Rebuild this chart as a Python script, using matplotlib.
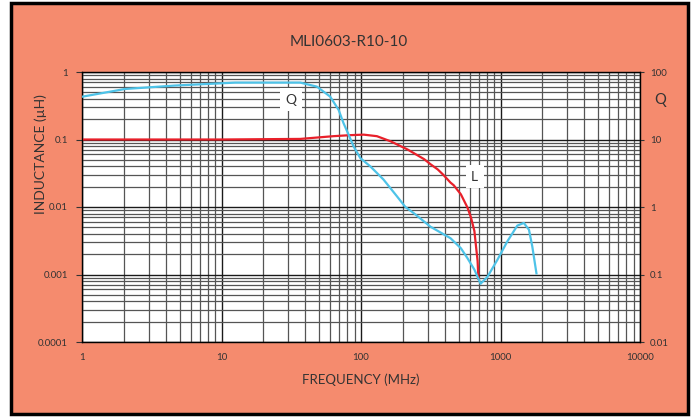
import matplotlib.pyplot as plt
from matplotlib.patches import Rectangle
from matplotlib.ticker import LogLocator, FixedLocator, NullFormatter

plt.rcParams['font.family'] = ['Lato', 'DejaVu Sans']

# inductance curve L (uH) vs frequency (MHz)
freqL = [1, 10, 36.7, 63.5, 83.9, 104.6, 130, 163, 216, 284, 315, 355, 389,
         438, 462, 520, 580, 614, 650, 665, 685, 695]
indL = [0.1, 0.1, 0.102, 0.112, 0.116, 0.118, 0.112, 0.094, 0.071, 0.051, 0.043,
        0.036, 0.030, 0.023, 0.021, 0.0154, 0.0098, 0.0070, 0.0044, 0.0028,
        0.0016, 0.00086]

# Q curve vs frequency (MHz)
freqQ = [1, 2.03, 4.65, 12.5, 16.1, 36.7, 48.3, 60.1, 69.1, 74.9, 81.5, 88.5,
         98.9, 116.6, 145, 181, 208, 239, 315, 438, 520, 580, 650, 720, 805,
         950, 1120, 1320, 1470, 1600, 1690, 1810]
qVal = [43, 56, 63, 69.6, 69.6, 69.6, 60.7, 43.2, 27.5, 17.5, 11.8, 7.9, 5.3,
        4.0, 2.55, 1.44, 1.0, 0.81, 0.51, 0.345, 0.245, 0.174, 0.118, 0.073,
        0.092, 0.165, 0.31, 0.53, 0.58, 0.46, 0.26, 0.104]

xTicks = [1, 10, 100, 1000, 10000]
xLabels = ['1', '10', '100', '1000', '10000']
yTicks = [1, 0.1, 0.01, 0.001, 0.0001]
yLabels = ['1', '0.1', '0.01', '0.001', '0.0001']
qTicks = [100, 10, 1, 0.1, 0.01]
qLabels = ['100', '10', '1', '0.1', '0.01']

salmon = '#F58B6E'
txt = '#333333'

fig = plt.figure(figsize=(6.98, 4.18), dpi=100)
fig.patch.set_facecolor('white')
fig.patches.append(Rectangle((11 / 698, 1 - 414 / 418), 677 / 698, 411 / 418,
                             transform=fig.transFigure, facecolor=salmon,
                             edgecolor='black', linewidth=2.5, zorder=-5))

ax = fig.add_axes([82 / 698, 1 - 342 / 418, 558 / 698, 270 / 418])
ax.set_facecolor('white')
ax.set_xscale('log')
ax.set_yscale('log')
ax.set_xlim(1, 10000)
ax.set_ylim(0.0001, 1)

ax.xaxis.set_major_locator(FixedLocator(xTicks))
ax.set_xticklabels(xLabels)
ax.xaxis.set_minor_locator(LogLocator(base=10, subs=range(2, 10)))
ax.xaxis.set_minor_formatter(NullFormatter())
ax.yaxis.set_major_locator(FixedLocator(yTicks))
ax.set_yticklabels(yLabels)
ax.yaxis.set_minor_locator(LogLocator(base=10, subs=range(2, 10)))
ax.yaxis.set_minor_formatter(NullFormatter())

ax.grid(which='major', color='#1a1a1a', linewidth=1.0)
ax.grid(which='minor', color='#555555', linewidth=0.9)
ax.set_axisbelow(True)
ax.tick_params(which='minor', length=0)
ax.tick_params(which='major', length=4, width=0.8, labelsize=7, colors=txt, pad=6)
ax.tick_params(axis='x', length=0, pad=8)
for s in ax.spines.values():
    s.set_color('#222222')
    s.set_linewidth(1.0)

ax.plot(freqL, indL, color='#E8202A', linewidth=1.6, zorder=3)

ax2 = ax.twinx()
ax2.set_yscale('log')
ax2.set_ylim(0.01, 100)
ax2.yaxis.set_major_locator(FixedLocator(qTicks))
ax2.set_yticklabels(qLabels)
ax2.yaxis.set_minor_locator(LogLocator(base=10, subs=range(2, 10)))
ax2.yaxis.set_minor_formatter(NullFormatter())
ax2.tick_params(which='minor', length=0)
ax2.tick_params(which='major', length=3, width=0.8, labelsize=7, colors=txt, pad=4)
ax2.plot(freqQ, qVal, color='#4EC3E8', linewidth=1.6, zorder=3)

ax.text(31.6, 0.39, 'Q', fontsize=10, color=txt, ha='center', va='center', zorder=5,
        bbox=dict(facecolor='white', edgecolor='none', pad=4))
ax.text(652, 0.028, 'L', fontsize=10, color=txt, ha='center', va='center', zorder=5,
        bbox=dict(facecolor='white', edgecolor='none', pad=4))

fig.text(0.5, 1 - 42 / 418, 'MLI0603-R10-10', fontsize=11, color=txt,
         ha='center', va='center')
fig.text(361 / 698, 1 - 380 / 418, 'FREQUENCY (MHz)', fontsize=9.5, color=txt,
         ha='center', va='center')
fig.text(41 / 698, 1 - 154 / 418, 'INDUCTANCE (\u00b5H)', fontsize=10, color=txt,
         ha='center', va='center', rotation=90)
fig.text(660 / 698, 1 - 100 / 418, 'Q', fontsize=10.5, color=txt,
         ha='center', va='center')

fig.savefig('out.png', dpi=100, facecolor=fig.get_facecolor())
